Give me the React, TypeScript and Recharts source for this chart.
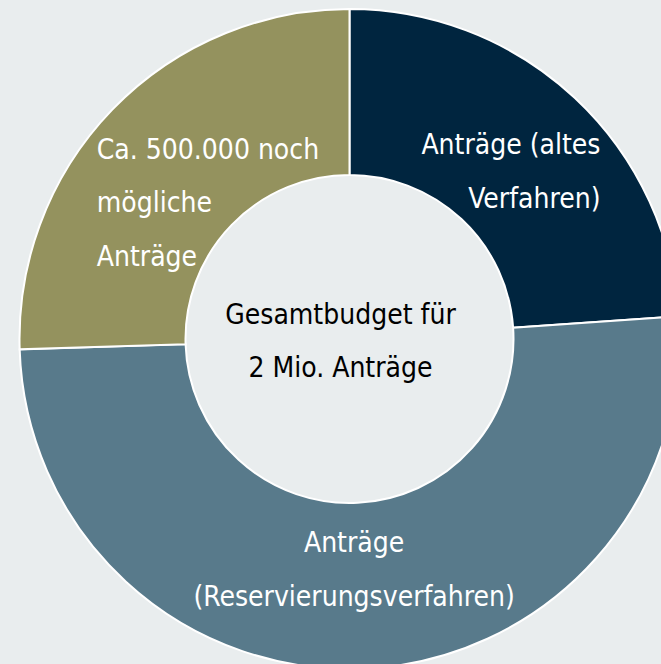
import React from 'react';
import { PieChart, Pie, Cell, Label } from 'recharts';

// Data (values in number of applications, total ~2 Mio.)
const segmentNames = ['Anträge (altes Verfahren)', 'Anträge (Reservierungsverfahren)', 'Ca. 500.000 noch mögliche Anträge'];
const segmentValues = [478000, 1012000, 510000];
const segmentLabelLines = [
  ['Anträge (altes', 'Verfahren)'],
  ['Anträge', '(Reservierungsverfahren)'],
  ['Ca. 500.000 noch', 'mögliche', 'Anträge'],
];
const centerLines = ['Gesamtbudget für', '2 Mio. Anträge'];

const colors = ['#00253F', '#587A8B', '#94925E'];
const BG = '#E9EDEE';
const FONT = '"DejaVu Sans Condensed", "DejaVu Sans", sans-serif';
const FONT_SIZE = 28;
const LINE_GAP = 53.5;

// label placement (styling, not data)
const labelPlace = [
  { r: 236, anchor: 'end', dx: 90, dy: 5 },
  { r: 231, anchor: 'middle', dx: -7, dy: 0 },
  { r: 196, anchor: 'start', dx: -112, dy: 0 },
];

const data = segmentNames.map((name, i) => ({ name, value: segmentValues[i], lines: segmentLabelLines[i] }));

const RAD = Math.PI / 180;

const renderLabel = (props: any) => {
  const { cx, cy, midAngle, index } = props;
  const p = labelPlace[index];
  const x = cx + p.r * Math.cos(-midAngle * RAD) + p.dx;
  const yc = cy + p.r * Math.sin(-midAngle * RAD) + p.dy;
  const lines: string[] = segmentLabelLines[index];
  const n = lines.length;
  return (
    <text
      key={`lbl-${index}`}
      x={x}
      y={yc}
      fill="#FFFFFF"
      textAnchor={p.anchor}
      fontFamily={FONT}
      fontSize={FONT_SIZE}
    >
      {lines.map((l, i) => (
        <tspan key={i} x={x} y={yc + (i - (n - 1) / 2) * LINE_GAP} dominantBaseline="central">
          {l}
        </tspan>
      ))}
    </text>
  );
};

const renderCenter = (props: any) => {
  const vb = props.viewBox || {};
  const cx = vb.cx ?? 349.5;
  const cy = vb.cy ?? 339;
  const x = cx - 9;
  const n = centerLines.length;
  return (
    <text x={x} y={cy} fill="#000000" textAnchor="middle" fontFamily={FONT} fontSize={FONT_SIZE}>
      {centerLines.map((l, i) => (
        <tspan key={i} x={x} y={cy + 2 + (i - (n - 1) / 2) * LINE_GAP} dominantBaseline="central">
          {l}
        </tspan>
      ))}
    </text>
  );
};

export default function App() {
  return (
    <div style={{ position: 'absolute', left: 0, top: 0, width: 661, height: 664, background: BG, overflow: 'hidden' }}>
      <PieChart width={661} height={664} margin={{ top: 0, right: 0, bottom: 0, left: 0 }}>
        <Pie
          data={data}
          dataKey="value"
          nameKey="name"
          cx={349.5}
          cy={339}
          innerRadius={164}
          outerRadius={330}
          startAngle={90}
          endAngle={-270}
          stroke="#FFFFFF"
          strokeWidth={2}
          label={renderLabel}
          labelLine={false}
          isAnimationActive={false}
        >
          {data.map((d, i) => (
            <Cell key={d.name} fill={colors[i]} />
          ))}
          <Label position="center" content={renderCenter} />
        </Pie>
      </PieChart>
    </div>
  );
}
